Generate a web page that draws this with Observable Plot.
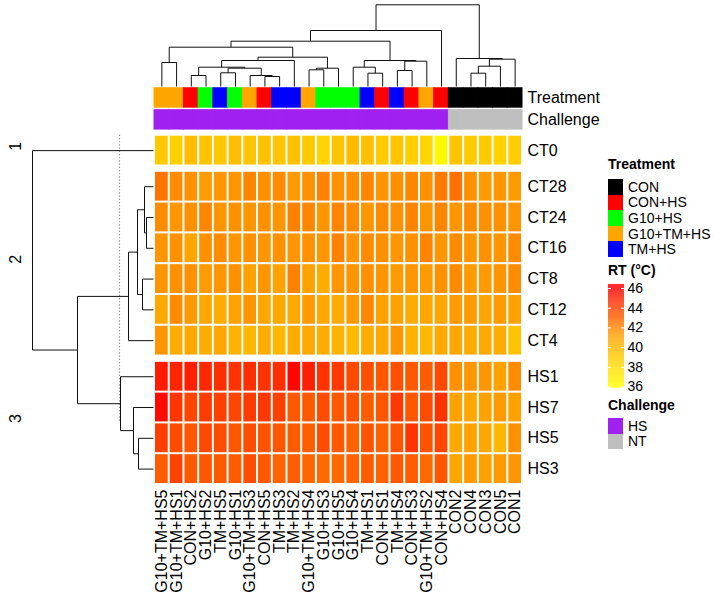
<!DOCTYPE html>
<html><head><meta charset="utf-8">
<script src="https://cdn.jsdelivr.net/npm/d3@7"></script>
<script src="https://cdn.jsdelivr.net/npm/@observablehq/plot@0.6"></script>
<style>
body{margin:0;background:#fff;font-family:"Liberation Sans",Arial,sans-serif;}
#wrap{position:relative;width:714px;height:604px;overflow:hidden;background:#fff;}
#wrap > *{position:absolute;}
.lt{position:absolute;font-size:14px;line-height:16px;color:#000;white-space:nowrap;}
.lb{font-weight:bold;}
.sw{position:absolute;width:15px;}
</style></head><body><div id="wrap"></div><script>
// ---------- data ----------
const samples = ["G10+TM+HS5","G10+TM+HS1","CON+HS2","G10+HS2","TM+HS5","G10+HS1","G10+TM+HS3","CON+HS5","TM+HS3","TM+HS2","G10+TM+HS4","G10+HS3","G10+HS5","G10+HS4","TM+HS1","CON+HS1","TM+HS4","CON+HS3","G10+TM+HS2","CON+HS4","CON2","CON4","CON3","CON5","CON1"];
const treatment = ["G10+TM+HS","G10+TM+HS","CON+HS","G10+HS","TM+HS","G10+HS","G10+TM+HS","CON+HS","TM+HS","TM+HS","G10+TM+HS","G10+HS","G10+HS","G10+HS","TM+HS","CON+HS","TM+HS","CON+HS","G10+TM+HS","CON+HS","CON","CON","CON","CON","CON"];
const challenge = ["HS","HS","HS","HS","HS","HS","HS","HS","HS","HS","HS","HS","HS","HS","HS","HS","HS","HS","HS","HS","NT","NT","NT","NT","NT"];
const treatmentLevels = ["CON","CON+HS","G10+HS","G10+TM+HS","TM+HS"];
const treatmentColors = ["#000000","#FF0000","#00FF00","#FFA500","#0000FF"];
const challengeLevels = ["HS","NT"];
const challengeColors = ["#A020F0","#BEBEBE"];
const rowNames = ["CT0","CT28","CT24","CT16","CT8","CT12","CT4","HS1","HS7","HS5","HS3"];
const rowGroup = [1,2,2,2,2,2,2,3,3,3,3];
const CT0  = [39.0,38.6,39.7,39.3,39.1,39.6,39.2,39.4,39.2,39.4,39.0,38.5,39.3,39.8,39.5,38.9,39.2,38.8,38.3,36.4,39.3,38.9,38.9,38.5,38.8];
const CT28 = [42.5,41.8,41.6,41.3,41.5,41.5,41.9,41.6,41.8,41.3,41.6,42.1,41.6,41.7,41.9,41.5,41.7,41.9,41.6,42.3,42.6,41.6,41.3,41.5,41.3];
const CT24 = [41.8,41.5,41.6,41.9,41.5,41.6,41.5,41.6,41.5,42.1,41.9,41.5,42.0,41.8,41.5,41.8,41.6,42.0,41.5,41.9,41.5,41.8,41.6,41.6,41.5];
const CT16 = [41.5,41.6,41.0,41.6,41.8,41.5,41.6,41.5,41.6,41.5,41.6,41.5,42.1,41.5,41.8,41.6,41.5,41.6,42.0,41.5,41.8,41.5,41.6,41.5,41.8];
const CT8  = [41.5,41.6,41.6,41.3,41.5,41.6,41.1,41.5,41.1,42.1,41.1,40.6,41.5,41.5,41.6,41.5,41.3,41.5,41.3,41.6,41.8,41.3,41.3,41.5,41.8];
const CT12 = [40.8,41.8,41.3,40.9,40.6,41.1,41.5,40.9,40.8,40.8,41.3,40.9,40.6,41.3,41.9,41.1,41.1,40.6,40.9,40.9,41.3,41.3,40.9,41.3,41.1];
const CT4  = [41.5,40.6,40.8,40.6,40.9,40.3,40.0,40.6,40.0,40.6,40.8,40.6,40.3,39.9,40.6,40.8,41.5,40.3,39.9,40.8,40.9,40.6,40.8,40.6,39.3];
const HS1  = [45.2,44.9,45.1,44.8,44.6,44.5,44.6,44.5,44.6,45.8,45.1,44.5,44.3,43.8,43.6,43.4,43.6,43.3,43.2,43.8,41.6,41.5,41.5,41.1,41.8];
const HS7  = [45.7,44.4,43.9,44.2,44.1,43.9,44.2,44.3,44.1,43.3,43.3,43.7,43.3,43.5,43.2,43.4,44.3,43.4,43.7,44.5,41.1,40.9,41.1,41.3,41.1];
const HS5  = [44.1,43.7,43.4,43.8,43.7,43.4,43.7,43.5,43.4,43.2,43.2,43.7,43.3,43.0,43.5,43.0,43.5,44.4,43.5,43.9,40.8,41.1,40.9,40.0,41.6];
const HS3  = [43.2,44.0,43.3,43.4,43.3,43.2,43.7,43.4,43.0,43.2,42.9,42.8,42.8,43.0,43.2,43.0,43.3,43.2,42.8,43.4,40.9,41.3,41.1,41.3,41.5];
const rowValues = [CT0,CT28,CT24,CT16,CT8,CT12,CT4,HS1,HS7,HS5,HS3];
// column dendrogram merges: [a, b, height]; negative = leaf position (1-based), positive = earlier merge
const colMerges = [
  [-1,-2,2.40],[-3,-4,1.10],[-5,-6,1.37],[-8,-9,1.00],[-7,4,1.10],[3,5,1.83],[2,6,1.93],[7,-10,2.60],
  [-11,-12,1.67],[9,-13,1.83],[8,10,2.93],[1,11,3.93],[-15,-16,1.33],[-14,13,1.93],[-17,-18,1.60],[15,-19,2.53],
  [14,16,2.60],[12,17,4.53],[18,-20,5.60],[-22,-23,1.33],[20,-24,2.03],[21,-25,2.73],[-21,22,2.80],[19,23,8.17]
];
// row dendrogram merges (leaf = row position, 1-based)
const rowMerges = [
  [-3,-4,0.7],[-2,1,0.9],[-5,-6,1.1],[2,3,1.6],[4,-7,2.5],[-10,-11,1.5],[-9,6,2.0],[-8,7,3.3],[5,8,7.6],[-1,9,12.1]
];
const rowCut = 3.4;
const legendTicks = [36,38,40,42,44,46];

// ---------- layout ----------
const W = 714, H = 604;
const PITCH = 30.9;              // px per heatmap row
const GAP = 5.3 / PITCH;         // gap between row slices (row units)
const ANN_H = 20.4 / PITCH, ANN_GAP = 1.6 / PITCH, ANN_OFF = 5.2 / PITCH;
const HM_LEFT = 154, HM_RIGHT = 522, HM_TOP = 87.3, HM_BOTTOM = 484;
const font = '"Liberation Sans", Arial, sans-serif';
const transparent = {background: "none", overflow: "visible", fontFamily: font};

const rowY1 = rowNames.map((r, i) => i + (rowGroup[i] - 1) * GAP);
const yTop = -(ANN_OFF + ANN_GAP + 2 * ANN_H);
const yBot = rowY1[rowY1.length - 1] + 1;
const colorScale = {type: "linear", domain: [36, 41, 46], range: ["yellow", "orange", "red"], interpolate: "rgb", clamp: true};

const cells = [];
rowNames.forEach((r, i) => samples.forEach((s, j) => cells.push({sample: s, row: r, y1: rowY1[i], y2: rowY1[i] + 1, value: rowValues[i][j]})));
const tColor = t => treatmentColors[treatmentLevels.indexOf(t)];
const cColor = c => challengeColors[challengeLevels.indexOf(c)];
const annRows = [
  {name: "Treatment", y1: yTop, y2: yTop + ANN_H, colors: treatment.map(tColor)},
  {name: "Challenge", y1: yTop + ANN_H + ANN_GAP, y2: yTop + 2 * ANN_H + ANN_GAP, colors: challenge.map(cColor)}
];
const annCells = [];
annRows.forEach(a => samples.forEach((s, j) => annCells.push({sample: s, y1: a.y1, y2: a.y2, color: a.colors[j]})));
const rightLabels = rowNames.map((r, i) => ({name: r, yc: rowY1[i] + 0.5}))
  .concat(annRows.map(a => ({name: a.name, yc: (a.y1 + a.y2) / 2})));

const wrap = document.getElementById("wrap");
function place(el, left, top) { el.style.left = left + "px"; el.style.top = top + "px"; wrap.appendChild(el); }

// ---------- main heatmap ----------
const main = Plot.plot({
  width: W, height: H,
  marginLeft: HM_LEFT, marginRight: W - HM_RIGHT, marginTop: HM_TOP, marginBottom: H - HM_BOTTOM,
  style: {fontFamily: font, fontSize: "16px", background: "white"},
  x: {domain: samples, padding: 0, round: false, axis: null},
  y: {domain: [yTop, yBot], reverse: true, axis: null},
  color: colorScale,
  marks: [
    Plot.barY(annCells, {x: "sample", y1: "y1", y2: "y2", fill: {value: "color", scale: null}, stroke: {value: "color", scale: null}, strokeWidth: 1, insetTop: 0.5, insetBottom: 0.5}),
    Plot.barY(cells, {x: "sample", y1: "y1", y2: "y2", fill: "value", inset: 1}),
    Plot.text(rightLabels, {y: "yc", text: "name", frameAnchor: "right", textAnchor: "start", dx: 5, fill: "black"}),
    Plot.axisX({anchor: "bottom", tickRotate: -90, tickSize: 0, tickPadding: 5, label: null})
  ]
});
place(main, 0, 0);

// ---------- dendrograms ----------
function dendro(merges, leafPos) {
  const pos = [], ht = [], segs = [];
  const get = k => k < 0 ? [leafPos[-k - 1], 0] : [pos[k - 1], ht[k - 1]];
  merges.forEach(([a, b, h]) => {
    const [pa, ha] = get(a), [pb, hb] = get(b);
    segs.push({p1: pa, h1: ha, p2: pa, h2: h}, {p1: pa, h1: h, p2: pb, h2: h}, {p1: pb, h1: hb, p2: pb, h2: h});
    pos.push((pa + pb) / 2); ht.push(h);
  });
  return segs;
}
const colSegs = dendro(colMerges, samples.map((s, i) => i + 0.5));
const colRoot = colMerges[colMerges.length - 1][2];
const colDendro = Plot.plot({
  width: W, height: 87,
  marginLeft: HM_LEFT, marginRight: W - HM_RIGHT, marginTop: 4.3, marginBottom: 1,
  style: transparent,
  x: {domain: [0, samples.length], axis: null},
  y: {domain: [0, colRoot], axis: null},
  marks: [Plot.link(colSegs, {x1: "p1", y1: "h1", x2: "p2", y2: "h2", stroke: "#111", strokeWidth: 1})]
});
place(colDendro, 0, 0);

const rowSegs = dendro(rowMerges, rowY1.map(y => y + 0.5));
const rowRoot = rowMerges[rowMerges.length - 1][2];
const groups = [...new Set(rowGroup)].map(g => {
  const idx = rowGroup.map((v, i) => v === g ? i : -1).filter(i => i >= 0);
  return {label: String(g), yc: (rowY1[idx[0]] + rowY1[idx[idx.length - 1]] + 1) / 2};
});
const rowDendro = Plot.plot({
  width: HM_LEFT, height: H,
  marginLeft: 32, marginRight: 1, marginTop: HM_TOP, marginBottom: H - HM_BOTTOM,
  style: {...transparent, fontSize: "16px"},
  x: {domain: [0, rowRoot], reverse: true, axis: null},
  y: {domain: [yTop, yBot], reverse: true, axis: null},
  marks: [
    Plot.ruleX([rowCut], {y1: 0, y2: groups[groups.length - 1].yc, stroke: "#888", strokeDasharray: "1.2,2", strokeWidth: 1.2}),
    Plot.link(rowSegs, {x1: "h1", y1: "p1", x2: "h2", y2: "p2", stroke: "#111", strokeWidth: 1}),
    Plot.text(groups, {y: "yc", text: "label", frameAnchor: "left", dx: -17, rotate: -90, fill: "black"})
  ]
});
place(rowDendro, 0, 0);

// ---------- legends ----------
function label(text, left, cy, bold) {
  const d = document.createElement("div");
  d.className = "lt" + (bold ? " lb" : "");
  d.textContent = text;
  place(d, left, cy - 8);
}
function swatch(color, left, top, h) {
  const d = document.createElement("div");
  d.className = "sw"; d.style.background = color; d.style.height = h + "px";
  place(d, left, top);
}
const LX = 608, SWH = 15.6;
label("Treatment", LX, 164, true);
treatmentLevels.forEach((t, i) => { swatch(treatmentColors[i], LX, 179 + i * SWH, SWH + 0.3); label(t, LX + 20, 179 + i * SWH + SWH / 2); });
label("RT (°C)", LX, 270, true);
label("Challenge", LX, 405, true);
challengeLevels.forEach((c, i) => { swatch(challengeColors[i], LX, 418 + i * SWH, SWH + 0.3); label(c, LX + 20, 418 + i * SWH + SWH / 2); });

const steps = d3.range(35.9, 46.4, 0.05).map(v => ({v}));
const grad = Plot.plot({
  width: 60, height: 120,
  marginLeft: 8, marginRight: 36, marginTop: 12, marginBottom: 9.5,
  style: {...transparent, fontSize: "14px"},
  x: {domain: [0, 1], axis: null},
  y: {domain: [36, 46]},
  color: colorScale,
  marks: [
    Plot.rect(steps, {x1: 0, x2: 1, y1: "v", y2: d => d.v + 0.06, fill: "v"}),
    Plot.ruleY(legendTicks, {x1: 0, x2: 0.18, stroke: "white", strokeWidth: 1}),
    Plot.ruleY(legendTicks, {x1: 0.82, x2: 1, stroke: "white", strokeWidth: 1}),
    Plot.axisY(legendTicks, {anchor: "right", tickSize: 0, tickPadding: 3, label: null, fill: "black"})
  ]
});
place(grad, 600, 276);
</script></body></html>
